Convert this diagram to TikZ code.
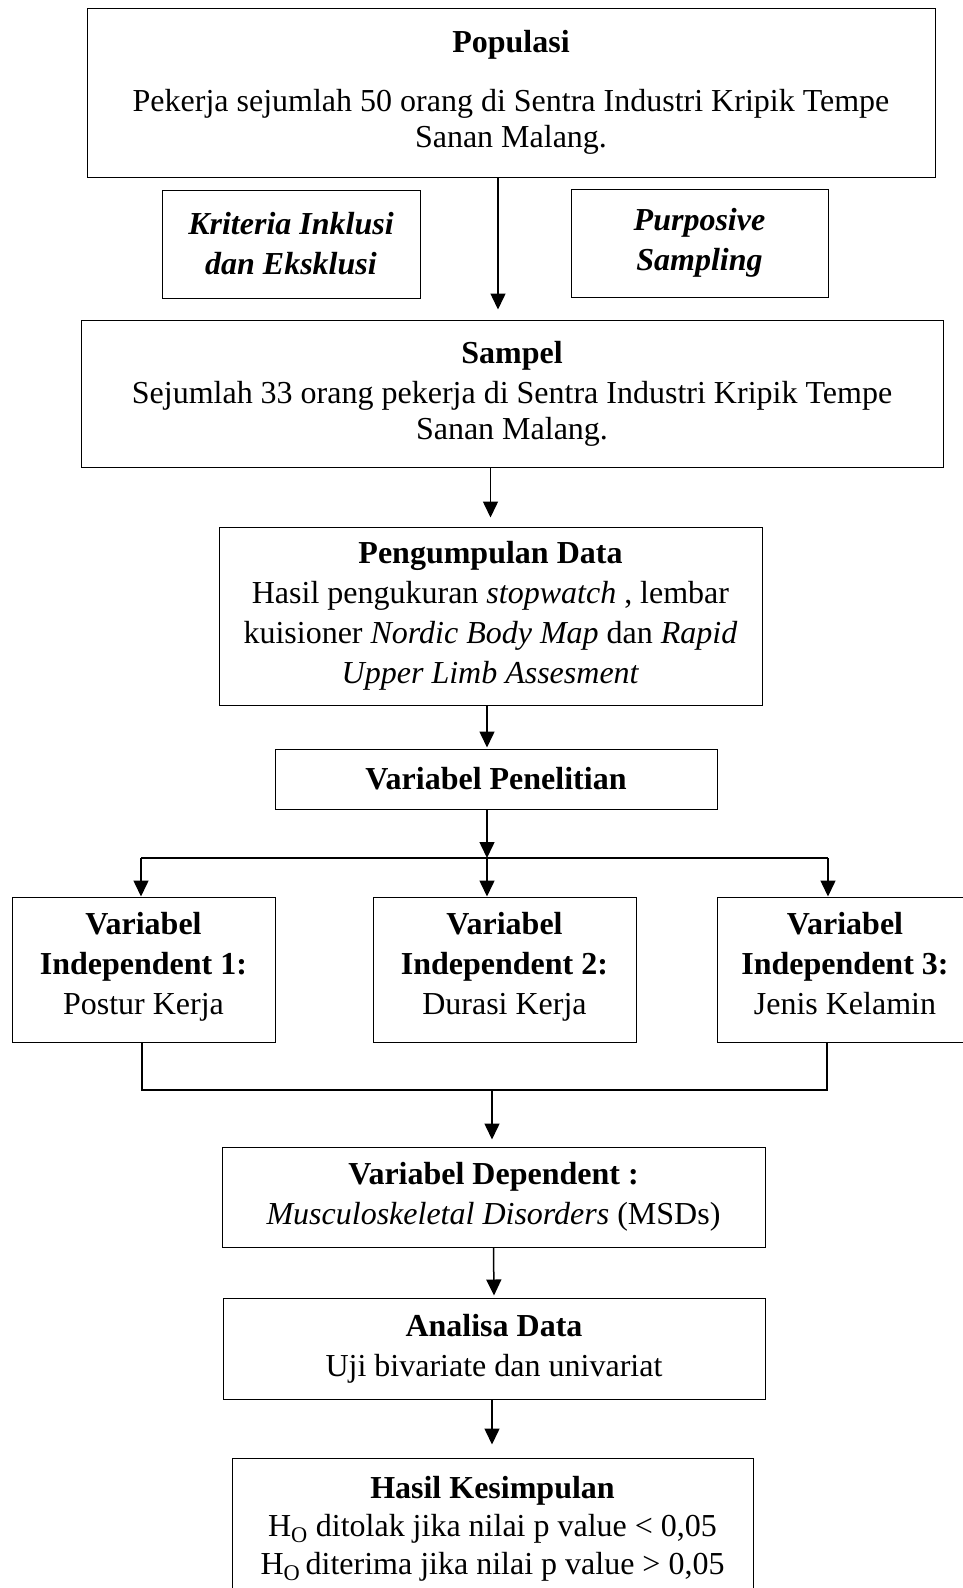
\documentclass[tikz,border=0pt]{standalone}
\usepackage{fontspec}
\setmainfont{Liberation Serif}
\usetikzlibrary{arrows.meta}

\tikzset{
  box/.style={draw, line width=1pt, align=center, inner sep=0pt,
    font=\fontsize{32}{40}\selectfont},
  arr/.style={line width=1.5pt, -{Triangle[length=16pt,width=15pt]}},
  plain/.style={line width=1.2pt}
}

\begin{document}
\begin{tikzpicture}[x=1pt,y=1pt,yscale=-1,xscale=1]
\useasboundingbox (0,0) rectangle (963,1588);

%Shape: Rectangle [populasi]
\node[box, minimum width=848pt, minimum height=169pt] (pop) at (511,92.5)
  {\textbf{Populasi}\\[19pt]Pekerja sejumlah 50 orang di Sentra Industri Kripik Tempe\\[-4pt]Sanan Malang.};
%Shape: Rectangle [kriteria]
\node[box, minimum width=258pt, minimum height=108pt] (krit) at (291,244)
  {\textbf{\textit{Kriteria Inklusi}}\\\textbf{\textit{dan Eksklusi}}};
%Shape: Rectangle [purposive]
\node[box, minimum width=257pt, minimum height=108pt] (purp) at (699.5,243)
  {\textbf{\textit{Purposive}}\\\textbf{\textit{Sampling}}};
%Shape: Rectangle [sampel]
\node[box, minimum width=862pt, minimum height=147pt] (samp) at (512,393.5)
  {\textbf{Sampel}\\Sejumlah 33 orang pekerja di Sentra Industri Kripik Tempe\\[-4pt]Sanan Malang.};
%Shape: Rectangle [pengumpulan]
\node[box, minimum width=543pt, minimum height=178pt] (kumpul) at (490.5,616)
  {\textbf{Pengumpulan Data}\\Hasil pengukuran \textit{stopwatch} , lembar\\kuisioner \textit{Nordic Body Map} dan \textit{Rapid}\\\textit{Upper Limb Assesment}};
%Shape: Rectangle [variabel penelitian]
\node[box, minimum width=442pt, minimum height=60pt] (varpen) at (496,779)
  {\textbf{Variabel Penelitian}};
%Shape: Rectangle [independent 1-3]
\node[box, minimum width=263pt, minimum height=145pt] (indA) at (143.5,969.5)
  {\textbf{Variabel}\\\textbf{Independent 1:}\\Postur Kerja\strut};
\node[box, minimum width=263pt, minimum height=145pt] (indB) at (504.5,969.5)
  {\textbf{Variabel}\\\textbf{Independent 2:}\\Durasi Kerja\strut};
\node[box, minimum width=256pt, minimum height=145pt] (indC) at (845,969.5)
  {\textbf{Variabel}\\\textbf{Independent 3:}\\Jenis Kelamin\strut};
%Shape: Rectangle [dependent]
\node[box, minimum width=543pt, minimum height=100pt] (dep) at (493.5,1197)
  {\textbf{Variabel Dependent :}\\\textit{Musculoskeletal Disorders} (MSDs)};
%Shape: Rectangle [analisa]
\node[box, minimum width=542pt, minimum height=101pt] (anal) at (494,1348.5)
  {\textbf{Analisa Data}\\Uji bivariate dan univariat};
%Shape: Rectangle [kesimpulan]
\node[box, minimum width=521pt, minimum height=141pt, font=\fontsize{32}{38}\selectfont] (hasil) at (492.5,1528.5)
  {\textbf{Hasil Kesimpulan}\\H\textsubscript{O} ditolak jika nilai p value < 0,05\\H\textsubscript{O}\,diterima jika nilai p value > 0,05};

%Straight Lines [branch points]
\coordinate (split) at (487,858);
\coordinate (splitL) at (141,858);
\coordinate (splitR) at (828,858);
\coordinate (join) at (492,1090);
\coordinate (joinL) at (142,1090);
\coordinate (joinR) at (827,1090);

%Straight Lines [arrows]
\draw[arr, shorten >=10pt] ([xshift=-13pt]pop.south) -- ([xshift=-14pt]samp.north);
\draw[arr, shorten >=9pt] (samp.south -| kumpul.north) -- (kumpul.north);
\draw[arr, shorten >=1pt] (kumpul.south -| split) -- (varpen.north -| split);
\draw[arr] (varpen.south -| split) -- (split);
\draw[plain] (splitL) -- (splitR);
\draw[arr] (splitL) -- (splitL |- indA.north);
\draw[arr] (split) -- (split |- indB.north);
\draw[arr] (splitR) -- (splitR |- indC.north);
\draw[plain] (indA.south -| joinL) -- (joinL) -- (joinR) -- (indC.south -| joinR);
\draw[arr, shorten >=7pt] (join) -- (join |- dep.north);
\draw[arr, shorten >=2pt] (dep.south) -- (anal.north);
\draw[arr, shorten >=13pt] (anal.south -| join) -- (hasil.north -| join);

\end{tikzpicture}
\end{document}
